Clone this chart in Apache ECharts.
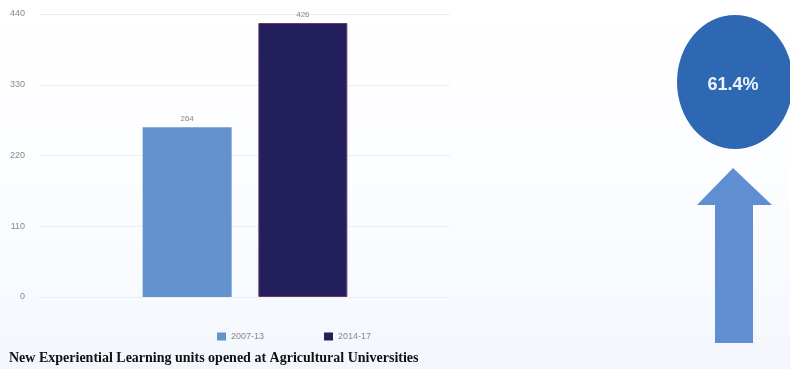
<!DOCTYPE html>
<html><head><meta charset="utf-8">
<script src="https://cdn.jsdelivr.net/npm/echarts@6/dist/echarts.min.js"></script>
<style>html,body{margin:0;padding:0;background:#fff}#c{width:790px;height:369px}</style>
</head><body><div id="c"></div>
<script>
var categories = ['Units'];
var seriesNames = ['2007-13', '2014-17'];
var values2007 = [264];
var values2014 = [426];
var yTicks = [0, 110, 220, 330, 440];
var growthLabel = '61.4%';
var titleText = 'New Experiential Learning units opened at Agricultural Universities';

var chart = echarts.init(document.getElementById('c'));
chart.setOption({
  backgroundColor: {
    type: 'linear', x: 0, y: 0, x2: 0, y2: 1,
    colorStops: [{offset: 0, color: '#ffffff'}, {offset: 0.5, color: '#fcfdff'}, {offset: 1, color: '#f3f7fd'}]
  },
  animation: false,
  title: {
    text: titleText, left: 4, top: 346,
    textStyle: {fontFamily: 'Liberation Serif', fontWeight: 'bold', fontSize: 14, color: '#111'}
  },
  legend: {
    data: seriesNames, left: 212, top: 327, itemWidth: 9, itemHeight: 8, itemGap: 60,
    icon: 'rect', itemStyle: {borderWidth: 0},
    textStyle: {color: '#888', fontSize: 9}
  },
  grid: {left: 40, right: 340, top: 14, bottom: 72},
  xAxis: {
    type: 'category', data: categories,
    axisLine: {show: false}, axisTick: {show: false}, axisLabel: {show: false}
  },
  yAxis: {
    type: 'value', min: yTicks[0], max: yTicks[yTicks.length - 1], interval: 110,
    axisLine: {show: false}, axisTick: {show: false},
    axisLabel: {color: '#888', fontSize: 9, margin: 15},
    splitLine: {lineStyle: {color: '#eeeeee'}}
  },
  series: [
    {name: seriesNames[0], type: 'bar', data: values2007, barWidth: 89, barGap: '30%',
     itemStyle: {color: '#6492cf'},
     label: {show: true, position: 'top', color: '#888', fontSize: 8, distance: 4}},
    {name: seriesNames[1], type: 'bar', data: values2014, barWidth: 89,
     itemStyle: {color: '#231f5c', borderColor: '#6a3a6a', borderWidth: 1},
     label: {show: true, position: 'top', color: '#888', fontSize: 8, distance: 4}}
  ],
  graphic: [
    {type: 'circle', shape: {cx: 0, cy: 0, r: 58}, x: 735, y: 82, scaleY: 67 / 58,
     style: {fill: '#2e68b3'}},
    {type: 'text', x: 733, y: 85,
     style: {text: growthLabel, fill: '#eef3fb', font: 'bold 18px Arial, Liberation Sans', textAlign: 'center', textVerticalAlign: 'middle'}},
    {type: 'polygon',
     shape: {points: [[733, 168], [772, 205], [753, 205], [753, 343], [715, 343], [715, 205], [697, 205]]},
     style: {fill: '#5f8fd2'}}
  ]
});
</script></body></html>
